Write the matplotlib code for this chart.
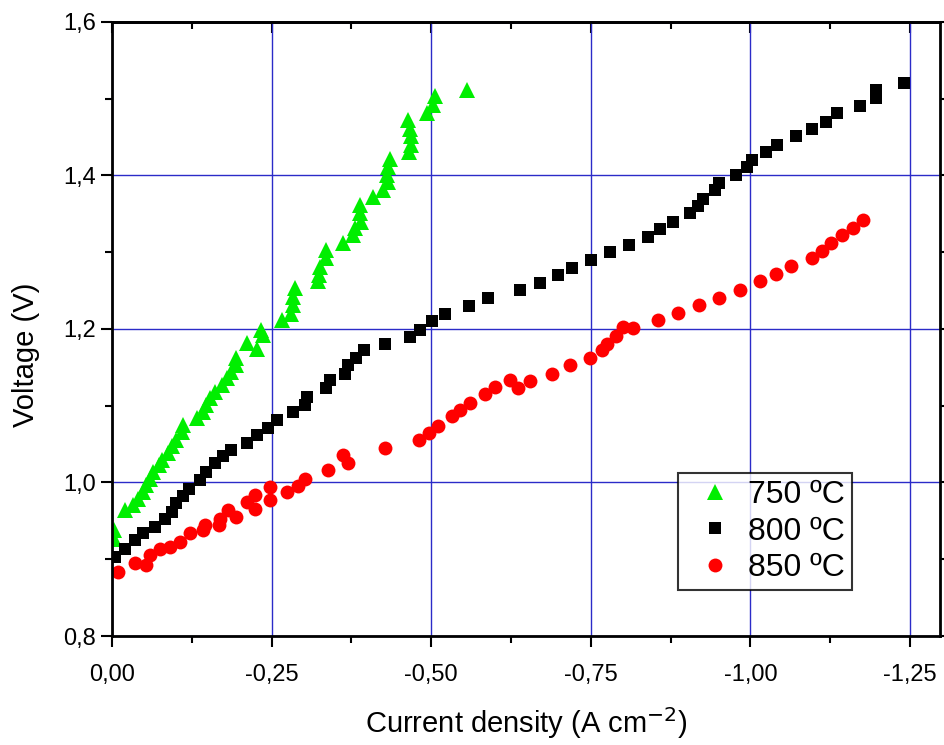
import matplotlib
matplotlib.use("Agg")
import matplotlib.pyplot as plt
from matplotlib.ticker import MultipleLocator, FuncFormatter

# polarisation curves, current density (A cm-2) vs cell voltage (V)
j_750 = [-0.003, -0.003, -0.020, -0.033, -0.041, -0.049, -0.054, -0.060, -0.065, -0.073,
         -0.078, -0.088, -0.094, -0.101, -0.109, -0.112, -0.133, -0.143, -0.148, -0.153,
         -0.161, -0.172, -0.180, -0.187, -0.195, -0.195, -0.211, -0.227, -0.234, -0.236,
         -0.266, -0.280, -0.283, -0.284, -0.287, -0.322, -0.325, -0.326, -0.336, -0.335,
         -0.362, -0.378, -0.380, -0.390, -0.389, -0.388, -0.409, -0.425, -0.433, -0.431,
         -0.433, -0.435, -0.466, -0.468, -0.469, -0.467, -0.464, -0.493, -0.503, -0.506,
         -0.556]
v_750 = [0.927, 0.938, 0.964, 0.971, 0.979, 0.988, 0.997, 1.005, 1.014, 1.023,
         1.029, 1.038, 1.047, 1.055, 1.066, 1.075, 1.084, 1.092, 1.101, 1.110,
         1.118, 1.127, 1.136, 1.144, 1.153, 1.162, 1.182, 1.174, 1.199, 1.192,
         1.212, 1.220, 1.231, 1.242, 1.253, 1.262, 1.270, 1.281, 1.292, 1.303,
         1.312, 1.322, 1.331, 1.340, 1.351, 1.362, 1.372, 1.381, 1.392, 1.401,
         1.411, 1.422, 1.431, 1.440, 1.451, 1.461, 1.472, 1.481, 1.492, 1.503,
         1.512]

j_800 = [-0.005, -0.020, -0.036, -0.049, -0.067, -0.083, -0.094, -0.101, -0.112, -0.120,
         -0.138, -0.148, -0.161, -0.174, -0.187, -0.211, -0.227, -0.245, -0.258, -0.284,
         -0.302, -0.305, -0.336, -0.341, -0.365, -0.370, -0.383, -0.394, -0.428, -0.467,
         -0.482, -0.501, -0.522, -0.560, -0.589, -0.639, -0.670, -0.699, -0.720, -0.750,
         -0.780, -0.810, -0.840, -0.859, -0.879, -0.905, -0.918, -0.926, -0.945, -0.951,
         -0.977, -0.994, -1.002, -1.025, -1.041, -1.072, -1.096, -1.119, -1.135, -1.171,
         -1.197, -1.197, -1.240]
v_800 = [0.903, 0.914, 0.925, 0.934, 0.942, 0.953, 0.962, 0.973, 0.982, 0.992,
         1.003, 1.014, 1.025, 1.034, 1.042, 1.051, 1.062, 1.071, 1.081, 1.092,
         1.101, 1.112, 1.123, 1.134, 1.142, 1.153, 1.162, 1.173, 1.181, 1.190,
         1.199, 1.210, 1.220, 1.230, 1.241, 1.251, 1.260, 1.270, 1.280, 1.290,
         1.300, 1.310, 1.320, 1.330, 1.340, 1.351, 1.360, 1.370, 1.381, 1.390,
         1.401, 1.411, 1.420, 1.431, 1.440, 1.451, 1.461, 1.470, 1.481, 1.491,
         1.501, 1.511, 1.521]

j_850 = [-0.010, -0.036, -0.054, -0.060, -0.075, -0.091, -0.107, -0.122, -0.143, -0.146,
         -0.167, -0.169, -0.182, -0.195, -0.211, -0.224, -0.224, -0.247, -0.247, -0.274,
         -0.292, -0.302, -0.339, -0.362, -0.370, -0.428, -0.481, -0.496, -0.511, -0.532,
         -0.545, -0.561, -0.584, -0.600, -0.623, -0.636, -0.655, -0.689, -0.717, -0.748,
         -0.767, -0.775, -0.789, -0.800, -0.816, -0.856, -0.887, -0.920, -0.951, -0.984,
         -1.015, -1.040, -1.063, -1.096, -1.112, -1.127, -1.143, -1.160, -1.176]
v_850 = [0.884, 0.895, 0.892, 0.906, 0.914, 0.916, 0.923, 0.934, 0.938, 0.945,
         0.945, 0.953, 0.964, 0.955, 0.975, 0.966, 0.984, 0.977, 0.994, 0.987,
         0.995, 1.005, 1.016, 1.036, 1.025, 1.045, 1.055, 1.064, 1.073, 1.086,
         1.094, 1.104, 1.115, 1.125, 1.134, 1.123, 1.132, 1.142, 1.153, 1.162,
         1.173, 1.181, 1.191, 1.203, 1.201, 1.212, 1.221, 1.231, 1.241, 1.251,
         1.262, 1.272, 1.282, 1.292, 1.302, 1.312, 1.322, 1.332, 1.342]

labels = ["750 ºC", "800 ºC", "850 ºC"]

plt.rcParams["font.family"] = ["Liberation Sans", "DejaVu Sans"]

fig = plt.figure(figsize=(9.44, 7.45), dpi=100)
ax = fig.add_axes([0.1186, 0.1463, 0.8772, 0.8242])

ax.plot(j_750, v_750, "^", color="#00ee00", markersize=11, markeredgewidth=0, label=labels[0])
ax.plot(j_800, v_800, "s", color="black", markersize=9, markeredgewidth=0, label=labels[1])
ax.plot(j_850, v_850, "o", color="red", markersize=10, markeredgewidth=0, label=labels[2])

ax.set_xlim(0, -1.297)
ax.set_ylim(0.8, 1.6)

ax.xaxis.set_major_locator(MultipleLocator(0.25))
ax.xaxis.set_minor_locator(MultipleLocator(0.125))
ax.yaxis.set_major_locator(MultipleLocator(0.2))
ax.yaxis.set_minor_locator(MultipleLocator(0.1))

ax.xaxis.set_major_formatter(FuncFormatter(lambda v, p: f"{v:.2f}".replace(".", ",").replace("-0,00", "0,00")))
ax.yaxis.set_major_formatter(FuncFormatter(lambda v, p: f"{v:.1f}".replace(".", ",")))

ax.grid(True, which="major", color="#2b2bc8", linewidth=1.0)
ax.set_axisbelow(True)

for s in ax.spines.values():
    s.set_linewidth(2)
    s.set_zorder(5)

# bottom/left/right ticks point out, top ticks point in
ax.tick_params(which="both", direction="out", width=1.5, right=True, top=False, labelsize=17)
ax.tick_params(which="major", length=8)
ax.tick_params(which="minor", length=5)
ax.tick_params(axis="x", which="both", pad=12)

top = ax.secondary_xaxis("top")
top.xaxis.set_major_locator(MultipleLocator(0.25))
top.xaxis.set_minor_locator(MultipleLocator(0.125))
top.tick_params(which="both", direction="in", width=1.5, labeltop=False)
top.tick_params(which="major", length=8)
top.tick_params(which="minor", length=5)
top.spines["top"].set_linewidth(2)

ax.set_xlabel("Current density (A cm$^{-2}$)", fontsize=21, labelpad=14)
ax.set_ylabel("Voltage (V)", fontsize=21)
ax.yaxis.set_label_coords(-0.087, 0.458)

leg = ax.legend(loc="lower left", bbox_to_anchor=(0.684, 0.075), fontsize=23,
                frameon=True, fancybox=False, edgecolor="black", handlelength=1.875,
                handletextpad=0.1, labelspacing=0.2, borderpad=0.22, borderaxespad=0)
leg.get_frame().set_linewidth(1.5)

fig.savefig("out.png", dpi=100, facecolor="white")
